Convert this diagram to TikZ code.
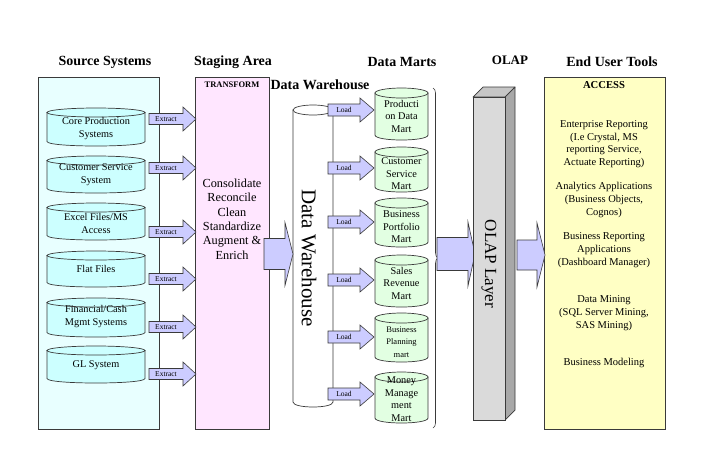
\documentclass[tikz,border=0pt]{standalone}
\usepackage{fontspec}
\setmainfont{Liberation Serif}
\usetikzlibrary{decorations.pathreplacing}
\definecolor{srcbg}{HTML}{E8FFFF}
\definecolor{srccyl}{HTML}{CCFFFF}
\definecolor{stagebg}{HTML}{FFE6FF}
\definecolor{martcyl}{HTML}{E2FFE2}
\definecolor{arrowfill}{HTML}{CCCCFF}
\definecolor{accessbg}{HTML}{FFFFC4}
\definecolor{olapfront}{HTML}{DADADA}
\definecolor{olapside}{HTML}{A8A8A8}
\definecolor{olaptop}{HTML}{C6C6C6}
\definecolor{edge}{HTML}{3A3A3A}
% cylinder: #1 name, #2 cx, #3 top, #4 bottom, #5 half width, #6 ry, #7 style
\newcommand\dbcyl[7]{%
  \path[#7] ({#2-#5},{#3+#6}) -- ({#2-#5},{#4-#6})
     .. controls ({#2-#5},{#4+0.333*#6}) and ({#2+#5},{#4+0.333*#6}) .. ({#2+#5},{#4-#6})
     -- ({#2+#5},{#3+#6}) -- cycle;
  \path[#7] (#2,{#3+#6}) ellipse [x radius=#5, y radius=#6];
  \coordinate (#1) at (#2,{(#3+#4)/2});
}
% block arrow: #1 name, #2 x0, #3 xh, #4 x1, #5 yc, #6 half body, #7 half head, #8 label
\newcommand\blockarrow[8]{%
  \draw[barrow] (#2,{#5-#6}) -- (#3,{#5-#6}) -- (#3,{#5-#7}) -- (#4,#5)
     -- (#3,{#5+#7}) -- (#3,{#5+#6}) -- (#2,{#5+#6}) -- cycle;
  \node[arrowlbl] (#1) at ({(#2+#3)/2},#5) {#8};
}
\begin{document}
\begin{tikzpicture}[x=1pt,y=-1pt,
  panel/.style={draw=edge, line width=0.8pt, anchor=north west, inner sep=0pt, outer sep=0pt},
  title/.style={font=\bfseries\fontsize{14}{16}\selectfont, inner sep=0pt},
  arrowlbl/.style={font=\fontsize{7.5}{8}\selectfont, inner sep=0pt},
  barrow/.style={draw=edge, fill=arrowfill, line width=0.6pt, line join=miter},
  cylsrc/.style={draw=edge, fill=srccyl, line width=0.7pt},
  cylmart/.style={draw=edge, fill=martcyl, line width=0.7pt},
  cyldw/.style={draw=edge, fill=white, line width=0.7pt},
  cyltext/.style={font=\fontsize{10.3}{13}\selectfont, align=center, inner sep=0pt},
  marttext/.style={font=\fontsize{10.3}{12.5}\selectfont, align=center, inner sep=0pt},
  smallmart/.style={font=\fontsize{8.5}{12.5}\selectfont, align=center, inner sep=0pt},
  stagetext/.style={font=\fontsize{12.3}{14.4}\selectfont, align=center, inner sep=0pt},
  accesstext/.style={font=\fontsize{10.5}{12.7}\selectfont, align=center, inner sep=0pt}]
\useasboundingbox[fill=white] (0,0) rectangle (720,451);

% titles
\node[title] (tsrc) at (105,62) {Source Systems};
\node[title] (tstage) at (233,62) {Staging Area};
\node[title] (tmarts) at (402,62) {Data Marts};
\node[title, font=\bfseries\fontsize{13}{15}\selectfont] (tolap) at (510,60) {OLAP};
\node[title] (tend) at (612,62) {End User Tools};

% panels
\node[panel, fill=srcbg, minimum width=121, minimum height=352] (src) at (38,77) {};
\node[panel, fill=stagebg, minimum width=74, minimum height=352] (stage) at (195,77) {};
\node[panel, fill=accessbg, minimum width=121, minimum height=352] (access) at (544,77) {};

% source cylinders
\dbcyl{ccore}{96}{108}{146}{49}{4.5}{cylsrc}
\dbcyl{ccust}{96}{156}{193}{49}{4.5}{cylsrc}
\dbcyl{cexcel}{96}{203}{240}{49}{4.5}{cylsrc}
\dbcyl{cflat}{96}{251}{287}{49}{4.5}{cylsrc}
\dbcyl{cfin}{96}{298}{337}{49}{4.5}{cylsrc}
\dbcyl{cgl}{96}{346}{383}{49}{4.5}{cylsrc}
\node[cyltext] (core) at (96,128.5) {Core Production\\Systems};
\node[cyltext] (cust) at (96,175) {Customer Service\\System};
\node[cyltext] (excel) at (96,223.5) {Excel Files/MS\\Access};
\node[cyltext] (flat) at (96,269) {Flat Files};
\node[cyltext] (fin) at (96,317) {Financial/Cash\\Mgmt Systems};
\node[cyltext] (gl) at (96,365) {GL System};

% extract arrows
\blockarrow{ex1}{149}{183}{196}{119}{5.5}{12}{Extract}
\blockarrow{ex2}{149}{183}{196}{168}{5.5}{12}{Extract}
\blockarrow{ex3}{149}{183}{196}{232}{5.5}{12}{Extract}
\blockarrow{ex4}{149}{183}{196}{279}{5.5}{12}{Extract}
\blockarrow{ex5}{149}{183}{196}{327}{5.5}{12}{Extract}
\blockarrow{ex6}{149}{183}{196}{374}{5.5}{12}{Extract}

% staging content
\node[font=\bfseries\fontsize{8.5}{10}\selectfont, inner sep=0pt] (transform) at (232,85) {TRANSFORM};
\node[stagetext] (stagetxt) at (232,219) {Consolidate\\Reconcile\\Clean\\Standardize\\Augment \&\\Enrich};

% data warehouse
\node[title] (tdw) at (320,85) {Data Warehouse};
\dbcyl{dw}{313}{105}{407}{20}{5}{cyldw}
\node[rotate=-90, font=\fontsize{21}{24}\selectfont, inner sep=0pt] (dwtxt) at (309,258) {Data Warehouse};
\blockarrow{st2dw}{264}{285}{293}{254}{15.5}{31.5}{}

% data marts
\dbcyl{cm1}{401.5}{88}{140}{26.5}{5}{cylmart}
\dbcyl{cm2}{401.5}{147}{192}{26.5}{5}{cylmart}
\dbcyl{cm3}{401.5}{198}{247}{26.5}{5}{cylmart}
\dbcyl{cm4}{401.5}{255}{307}{26.5}{5}{cylmart}
\dbcyl{cm5}{401.5}{313}{362}{26.5}{5}{cylmart}
\dbcyl{cm6}{401.5}{372}{423}{26.5}{5}{cylmart}
\node[marttext] (m1) at (401.5,116) {Producti\\on Data\\Mart};
\node[marttext] (m2) at (401.5,174) {Customer\\Service\\Mart};
\node[marttext] (m3) at (401.5,227) {Business\\Portfolio\\Mart};
\node[marttext] (m4) at (401.5,283) {Sales\\Revenue\\Mart};
\node[smallmart] (m5) at (401.5,342) {Business\\Planning\\mart};
\node[marttext] (m6) at (401.5,399) {Money\\Manage\\ment\\Mart};

% load arrows
\blockarrow{ld1}{328}{360}{374}{110}{6}{12}{Load}
\blockarrow{ld2}{328}{360}{374}{168}{6}{12}{Load}
\blockarrow{ld3}{328}{360}{374}{222}{6}{12}{Load}
\blockarrow{ld4}{328}{360}{374}{280}{6}{12}{Load}
\blockarrow{ld5}{328}{360}{374}{337}{6}{12}{Load}
\blockarrow{ld6}{328}{360}{374}{394}{6}{12}{Load}

% brace
\coordinate (bracetop) at (433,88);
\coordinate (bracebot) at (433,428);
\draw[edge, line width=0.6pt, decorate, decoration={brace, amplitude=5pt}] (bracetop) -- (bracebot);

% arrow to OLAP
\blockarrow{br2olap}{437}{468}{475}{254}{16.5}{32}{}

% OLAP layer 3D column
\coordinate (of1) at (473,97);
\coordinate (of2) at (505,97);
\coordinate (of3) at (505,420);
\coordinate (of4) at (473,420);
\coordinate (ob1) at (483,87);
\coordinate (ob2) at (515,87);
\coordinate (ob3) at (515,410);
\draw[edge, line width=0.7pt, fill=olaptop, line join=round] (of1) -- (ob1) -- (ob2) -- (of2) -- cycle;
\draw[edge, line width=0.7pt, fill=olapside, line join=round] (of2) -- (ob2) -- (ob3) -- (of3) -- cycle;
\draw[edge, line width=0.7pt, fill=olapfront] (of1) rectangle (of3);
\node[rotate=-90, font=\fontsize{17}{20}\selectfont, inner sep=0pt] (olaptxt) at (489,264) {OLAP Layer};

% arrow OLAP to access
\blockarrow{olap2acc}{517}{537}{545}{255}{15}{32}{}

% access content
\node[font=\bfseries\fontsize{10.6}{12}\selectfont, inner sep=0pt] (acc) at (604,85) {ACCESS};
\node[accesstext] (a1) at (604,144) {Enterprise Reporting\\(I.e Crystal, MS\\reporting Service,\\Actuate Reporting)};
\node[accesstext] (a2) at (604,200) {Analytics Applications\\(Business Objects,\\Cognos)};
\node[accesstext] (a3) at (604,250) {Business Reporting\\Applications\\(Dashboard Manager)};
\node[accesstext] (a4) at (604,313) {Data Mining\\(SQL Server Mining,\\SAS Mining)};
\node[accesstext] (a5) at (604,363) {Business Modeling};
\end{tikzpicture}
\end{document}
